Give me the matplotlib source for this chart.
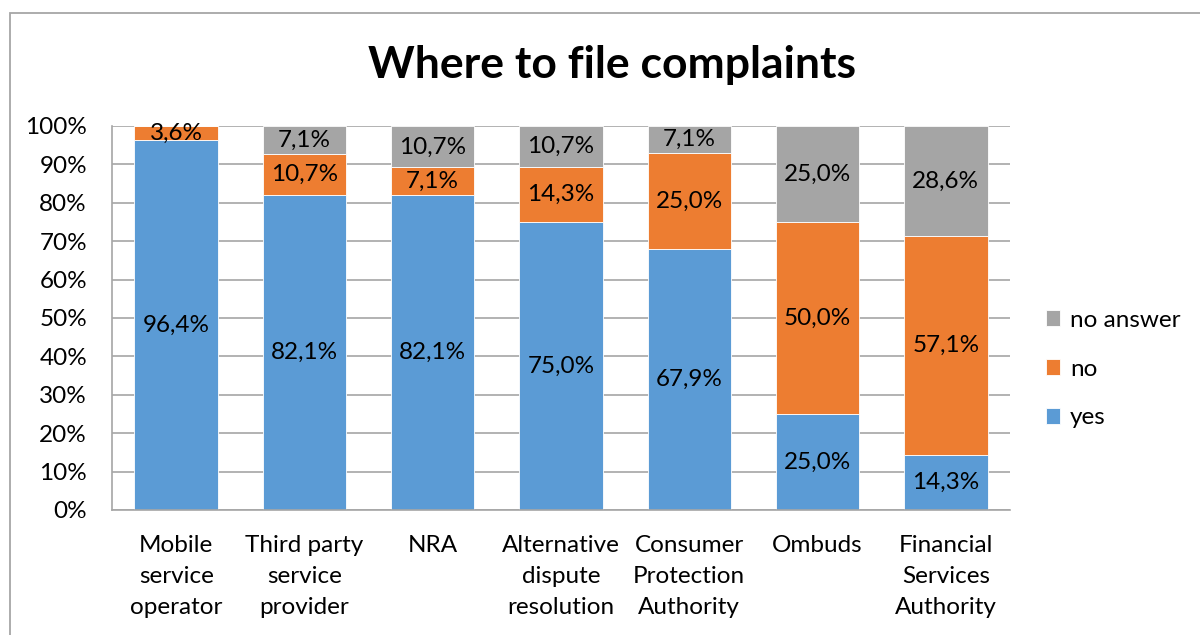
import matplotlib
matplotlib.use("Agg")
import matplotlib.pyplot as plt
from matplotlib.patches import Rectangle

categories = ["Mobile\nservice\noperator", "Third party\nservice\nprovider", "NRA",
              "Alternative\ndispute\nresolution", "Consumer\nProtection\nAuthority",
              "Ombuds", "Financial\nServices\nAuthority"]
yes = [96.4, 82.1, 82.1, 75.0, 67.9, 25.0, 14.3]
no = [3.6, 10.7, 7.1, 14.3, 25.0, 50.0, 57.1]
no_answer = [0.0, 7.1, 10.7, 10.7, 7.1, 25.0, 28.6]
yticks = [0, 10, 20, 30, 40, 50, 60, 70, 80, 90, 100]

plt.rcParams['font.family'] = ['Lato', 'DejaVu Sans']

W, H = 1200, 635
fig = plt.figure(figsize=(12, 6.35), dpi=100)
ax = fig.add_axes([112 / W, 1 - 510 / H, (1010 - 112) / W, (510 - 126) / H])

c_yes, c_no, c_na = "#5B9BD5", "#ED7D31", "#A5A5A5"
x = list(range(len(categories)))
bw = 0.65
b1 = ax.bar(x, yes, bw, color=c_yes, edgecolor="white", linewidth=0.6, label="yes", zorder=2)
bottom2 = yes
b2 = ax.bar(x, no, bw, bottom=bottom2, color=c_no, edgecolor="white", linewidth=0.6, label="no", zorder=2)
bottom3 = [a + b for a, b in zip(yes, no)]
b3 = ax.bar(x, no_answer, bw, bottom=bottom3, color=c_na, edgecolor="white", linewidth=0.6, label="no answer", zorder=2)

def fmt(v):
    return f"{v:.1f}%".replace(".", ",")

fs = 17.5
for i in x:
    ax.text(i, yes[i] / 2, fmt(yes[i]), ha="center", va="center", fontsize=fs, zorder=3)
    ax.text(i, yes[i] + no[i] / 2, fmt(no[i]), ha="center", va="center", fontsize=fs, zorder=3)
    if no_answer[i] > 0:
        ax.text(i, bottom3[i] + no_answer[i] / 2, fmt(no_answer[i]), ha="center", va="center", fontsize=fs, zorder=3)

ax.set_ylim(0, 100)
ax.set_xlim(-0.5, len(categories) - 0.5)
ax.set_yticks(yticks)
ax.set_yticklabels([f"{t}%" for t in yticks], fontsize=fs)
ax.set_xticks(x)
ax.set_xticklabels(categories, fontsize=fs, linespacing=1.6)
ax.tick_params(axis="both", length=0)
ax.tick_params(axis="y", pad=18)
ax.tick_params(axis="x", pad=18)
ax.yaxis.grid(True, color="#A6A6A6", linewidth=1.2, zorder=0)
ax.set_axisbelow(True)
for s in ["top", "right"]:
    ax.spines[s].set_visible(False)
ax.spines["left"].set_color("#A6A6A6")
ax.spines["left"].set_linewidth(1.2)
ax.spines["bottom"].set_color("#A6A6A6")
ax.spines["bottom"].set_linewidth(1.2)

fig.text(612 / W, 1 - 65 / H, "Where to file complaints", ha="center", va="center",
         fontsize=32, fontweight="bold")

handles = [b3, b2, b1]
leg = fig.legend(handles, ["no answer", "no", "yes"], loc="center left",
                 bbox_to_anchor=(1024 / W, 1 - 369 / H), frameon=False, fontsize=fs,
                 handlelength=0.6, handleheight=0.6, handletextpad=0.4, labelspacing=1.15)

fig.patches.append(Rectangle((10 / W, -0.1), 1.2, 1 - 13 / H + 0.1, transform=fig.transFigure,
                             fill=False, edgecolor="#A6A6A6", linewidth=1.3))

fig.savefig("out.png", dpi=100)
